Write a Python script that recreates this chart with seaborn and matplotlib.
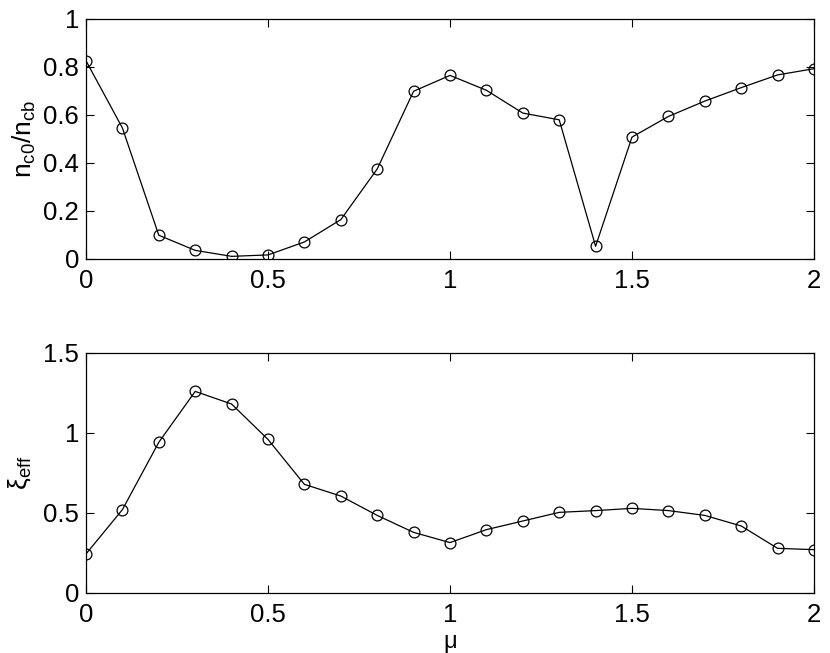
import numpy as np
import pandas as pd
import matplotlib
matplotlib.use('Agg')
import matplotlib.pyplot as plt
import seaborn as sns

# values
mu = [0.0, 0.1, 0.2, 0.3, 0.4, 0.5, 0.6, 0.7, 0.8, 0.9, 1.0,
      1.1, 1.2, 1.3, 1.4, 1.5, 1.6, 1.7, 1.8, 1.9, 2.0]
n_ratio = [0.826, 0.546, 0.099, 0.036, 0.011, 0.017, 0.071, 0.164, 0.375, 0.699, 0.765,
           0.703, 0.608, 0.580, 0.053, 0.508, 0.594, 0.658, 0.714, 0.767, 0.793]
xi_eff = [0.244, 0.521, 0.942, 1.260, 1.181, 0.960, 0.679, 0.606, 0.485, 0.379, 0.315,
          0.396, 0.450, 0.504, 0.515, 0.529, 0.515, 0.485, 0.419, 0.279, 0.271]

x_ticks = [0, 0.5, 1, 1.5, 2]
x_ticklabels = ['0', '0.5', '1', '1.5', '2']
top_yticks = [0, 0.2, 0.4, 0.6, 0.8, 1]
top_yticklabels = ['0', '0.2', '0.4', '0.6', '0.8', '1']
bot_yticks = [0, 0.5, 1, 1.5]
bot_yticklabels = ['0', '0.5', '1', '1.5']

df = pd.DataFrame({'mu': mu, 'n_ratio': n_ratio, 'xi_eff': xi_eff})

sns.set_style('ticks', {'text.color': 'black', 'axes.labelcolor': 'black',
                        'xtick.color': 'black', 'ytick.color': 'black',
                        'axes.edgecolor': 'black'})
plt.rcParams['font.family'] = ['Liberation Sans', 'DejaVu Sans']
plt.rcParams['mathtext.fontset'] = 'custom'
plt.rcParams['mathtext.rm'] = 'Liberation Sans'
plt.rcParams['mathtext.it'] = 'Liberation Sans'
plt.rcParams['mathtext.default'] = 'regular'

fig = plt.figure(figsize=(8.3, 6.53), dpi=100)
ax1 = fig.add_axes([86 / 830, 1 - 259 / 653, 728 / 830, 240 / 653])
ax2 = fig.add_axes([86 / 830, 1 - 593 / 653, 728 / 830, 240 / 653])

line_kw = dict(color='black', linewidth=0.9, marker='o', markersize=7.8,
               markerfacecolor='none', markeredgecolor='black', markeredgewidth=0.9)

sns.lineplot(data=df, x='mu', y='n_ratio', ax=ax1, **line_kw)
sns.lineplot(data=df, x='mu', y='xi_eff', ax=ax2, **line_kw)

for ax, yt, ytl, ylim in [(ax1, top_yticks, top_yticklabels, (0, 1)),
                          (ax2, bot_yticks, bot_yticklabels, (0, 1.5))]:
    ax.set_xlim(0, 2)
    ax.set_ylim(*ylim)
    ax.set_xticks(x_ticks)
    ax.set_xticklabels(x_ticklabels)
    ax.set_yticks(yt)
    ax.set_yticklabels(ytl)
    ax.tick_params(direction='in', top=True, right=True, labelsize=18.5,
                   length=6, width=0.8, colors='black')
    ax.tick_params(axis='x', pad=7)
    ax.tick_params(axis='y', pad=5)
    for s in ax.spines.values():
        s.set_linewidth(0.9)
        s.set_color('black')
    ax.set_xlabel('')

ax1.set_ylabel(r'$n_{c0}/n_{cb}$', fontsize=19, labelpad=4, color='black')
ax2.set_ylabel(r'$ξ_{eff}$', fontsize=19, labelpad=7, color='black')
ax2.set_xlabel('μ', fontsize=17, labelpad=3, color='black')

fig.savefig('out.png', dpi=100)
